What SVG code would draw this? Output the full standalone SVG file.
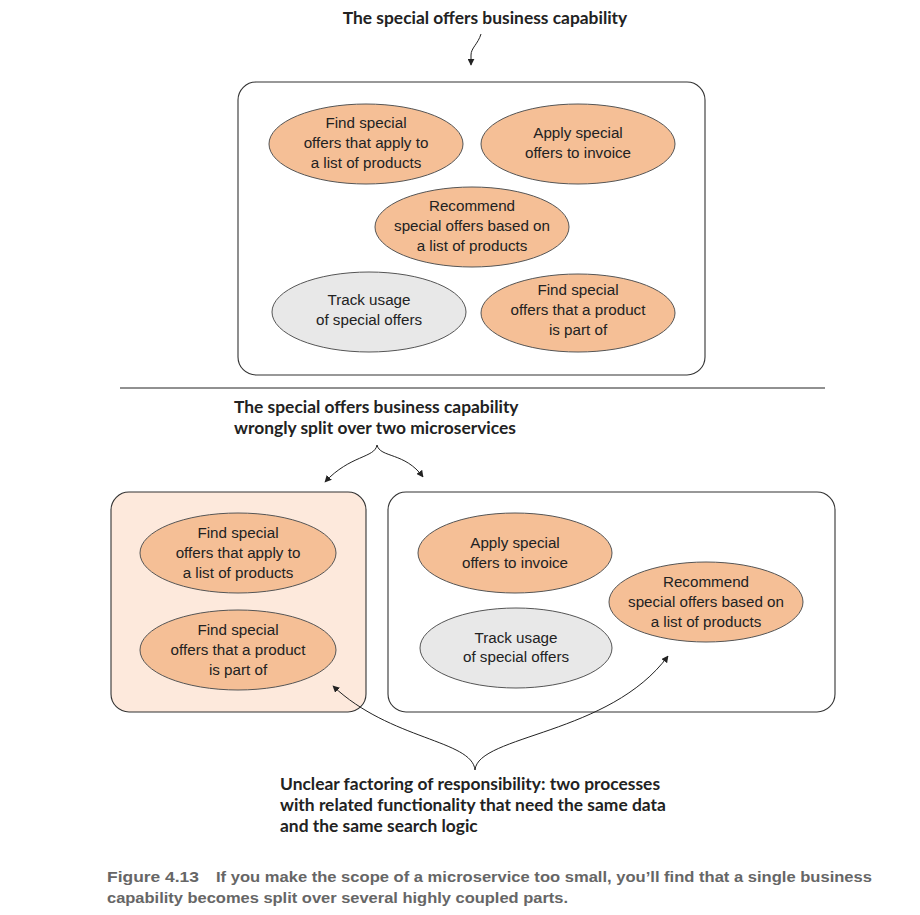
<svg xmlns="http://www.w3.org/2000/svg" width="920" height="915" viewBox="0 0 920 915">
<defs>
<style>
.box{fill:#fff;stroke:#333;stroke-width:1.1}
.boxp{fill:#fde9dc;stroke:#333;stroke-width:1.1}
.ell{fill:#f5bf96;stroke:#555;stroke-width:1}
.ellg{fill:#e8e8e8;stroke:#555;stroke-width:1}
.t{font-family:"Liberation Sans",Arial,sans-serif;font-size:15.2px;fill:#222;text-anchor:middle}
.h{font-family:Lato,"Open Sans",sans-serif;font-weight:bold;font-size:17.4px;fill:#222}
.cap{font-family:"Liberation Sans",Arial,sans-serif;font-weight:bold;font-size:15px;fill:#666}
.c{fill:none;stroke:#222;stroke-width:1}
</style>
<marker id="ah" viewBox="0 0 10 10" refX="9" refY="5" markerWidth="7" markerHeight="7" orient="auto" markerUnits="userSpaceOnUse">
<path d="M0,0 L10,5 L0,10 z" fill="#222"/>
</marker>
</defs>
<rect width="920" height="915" fill="#fff"/>

<text class="h" x="485" y="24" text-anchor="middle">The special offers business capability</text>

<g id="top-capability">
<rect class="box" x="238" y="82" width="467" height="293" rx="18"/>
</g>
<g id="t-find-list"><ellipse class="ell" cx="366" cy="144" rx="97" ry="40"/>
<text class="t" x="366" y="128">Find special</text><text class="t" x="366" y="148">offers that apply to</text><text class="t" x="366" y="168">a list of products</text></g>
<g id="t-apply"><ellipse class="ell" cx="578" cy="144" rx="97" ry="40"/>
<text class="t" x="578" y="138">Apply special</text><text class="t" x="578" y="158">offers to invoice</text></g>
<g id="t-recommend"><ellipse class="ell" cx="472" cy="227" rx="97" ry="40"/>
<text class="t" x="472" y="211">Recommend</text><text class="t" x="472" y="231">special offers based on</text><text class="t" x="472" y="251">a list of products</text></g>
<g id="t-track"><ellipse class="ellg" cx="369" cy="312" rx="97" ry="40"/>
<text class="t" x="369" y="305">Track usage</text><text class="t" x="369" y="325">of special offers</text></g>
<g id="t-find-product"><ellipse class="ell" cx="578" cy="313" rx="97" ry="39"/>
<text class="t" x="578" y="295">Find special</text><text class="t" x="578" y="315">offers that a product</text><text class="t" x="578" y="335">is part of</text></g>

<line x1="120" y1="388" x2="825" y2="388" stroke="#222" stroke-width="1"/>

<text class="h" x="234" y="413">The special offers business capability</text>
<text class="h" x="234" y="434">wrongly split over two microservices</text>

<g id="left-service"><rect class="boxp" x="111" y="492" width="255" height="220" rx="18"/></g>
<g id="right-service"><rect class="box" x="388" y="492" width="447" height="220" rx="18"/></g>

<g id="b-find-list"><ellipse class="ell" cx="238" cy="553" rx="98" ry="40"/>
<text class="t" x="238" y="538">Find special</text><text class="t" x="238" y="558">offers that apply to</text><text class="t" x="238" y="578">a list of products</text></g>
<g id="b-find-product"><ellipse class="ell" cx="238" cy="650" rx="98" ry="40"/>
<text class="t" x="238" y="635">Find special</text><text class="t" x="238" y="655">offers that a product</text><text class="t" x="238" y="675">is part of</text></g>
<g id="b-apply"><ellipse class="ell" cx="515" cy="553" rx="97" ry="40"/>
<text class="t" x="515" y="548">Apply special</text><text class="t" x="515" y="568">offers to invoice</text></g>
<g id="b-track"><ellipse class="ellg" cx="516" cy="648" rx="96" ry="40"/>
<text class="t" x="516" y="643">Track usage</text><text class="t" x="516" y="662">of special offers</text></g>
<g id="b-recommend"><ellipse class="ell" cx="706" cy="602" rx="97" ry="40"/>
<text class="t" x="706" y="587">Recommend</text><text class="t" x="706" y="607">special offers based on</text><text class="t" x="706" y="627">a list of products</text></g>

<g id="connectors">
<path class="c" d="M481,34 C478,44 471,48 471,55 L471,65" marker-end="url(#ah)"/>
<path class="c" d="M377,445 C375,458 350,455 325,482" marker-end="url(#ah)"/>
<path class="c" d="M377,445 C380,458 405,452 423,477" marker-end="url(#ah)"/>
<path class="c" d="M475,770 C472,740 390,740 333,686" marker-end="url(#ah)"/>
<path class="c" d="M475,770 C478,735 610,735 668,656" marker-end="url(#ah)"/>
</g>

<text class="h" x="280" y="790">Unclear factoring of responsibility: two processes</text>
<text class="h" x="280" y="811">with related functionality that need the same data</text>
<text class="h" x="280" y="832">and the same search logic</text>

<text class="cap" x="107" y="882" textLength="92" lengthAdjust="spacingAndGlyphs">Figure 4.13</text>
<text class="cap" x="216" y="882" textLength="656" lengthAdjust="spacingAndGlyphs">If you make the scope of a microservice too small, you’ll find that a single business</text>
<text class="cap" x="107" y="903" textLength="461" lengthAdjust="spacingAndGlyphs">capability becomes split over several highly coupled parts.</text>
</svg>
